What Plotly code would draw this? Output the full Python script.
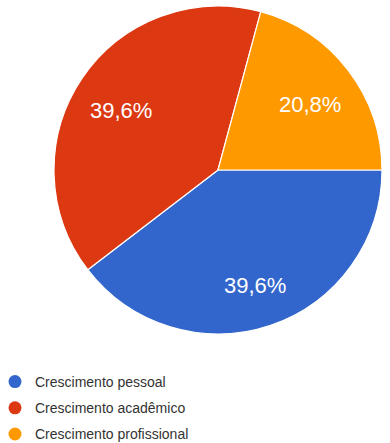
import math
import plotly.graph_objects as go

categories = ["Crescimento pessoal", "Crescimento acadêmico", "Crescimento profissional"]
shares = [39.6, 39.6, 20.8]
colors = ["#3366CC", "#DC3912", "#FF9900"]

W, H = 390, 443
# pie centre and radius in pixels
CX, CY, R = 218, 170, 164
LABEL_R = 0.71

fig = go.Figure()

fig.add_trace(go.Pie(
    labels=categories,
    values=shares,
    sort=False,
    direction="clockwise",
    rotation=90,
    marker=dict(colors=colors, line=dict(color="white", width=1.2)),
    textinfo="none",
    domain=dict(x=[(CX - R) / W, (CX + R) / W], y=[1 - (CY + R) / H, 1 - (CY - R) / H]),
    showlegend=False,
    hoverinfo="label+percent",
))

# Percentage labels placed along each slice's mid-angle
total = sum(shares)
start = 0.0  # degrees clockwise from east
for v in shares:
    sweep = 360.0 * v / total
    mid = math.radians(start + sweep / 2)
    px = CX + LABEL_R * R * math.cos(mid)
    py = CY + LABEL_R * R * math.sin(mid)
    fig.add_annotation(
        x=px / W, y=1 - py / H, xref="paper", yref="paper",
        xanchor="center", yanchor="middle", yshift=-5,
        text=f"{100 * v / total:.1f}%".replace(".", ","),
        showarrow=False,
        font=dict(family="Liberation Sans, Arial, sans-serif", size=22, color="white"),
    )
    start += sweep

# Legend entries with round markers
for i, (name, col) in enumerate(zip(categories, colors)):
    fig.add_trace(go.Scatter(
        x=[None], y=[None], mode="markers", name=name,
        marker=dict(symbol="circle", size=13, color=col),
        legendgroup=f"g{i}", showlegend=True,
    ))

fig.update_layout(
    width=W, height=H,
    margin=dict(l=0, r=0, t=0, b=0, autoexpand=False),
    paper_bgcolor="white", plot_bgcolor="white",
    separators=",.",
    xaxis=dict(visible=False), yaxis=dict(visible=False),
    legend=dict(
        x=-5 / W, xanchor="left", y=1 - 366 / H, yanchor="top",
        orientation="v", traceorder="grouped", tracegroupgap=5,
        font=dict(family="Liberation Sans, Arial, sans-serif", size=14, color="#333333"),
        bgcolor="rgba(0,0,0,0)", itemclick=False,
    ),
    showlegend=True,
)

fig.write_html("out.html")
